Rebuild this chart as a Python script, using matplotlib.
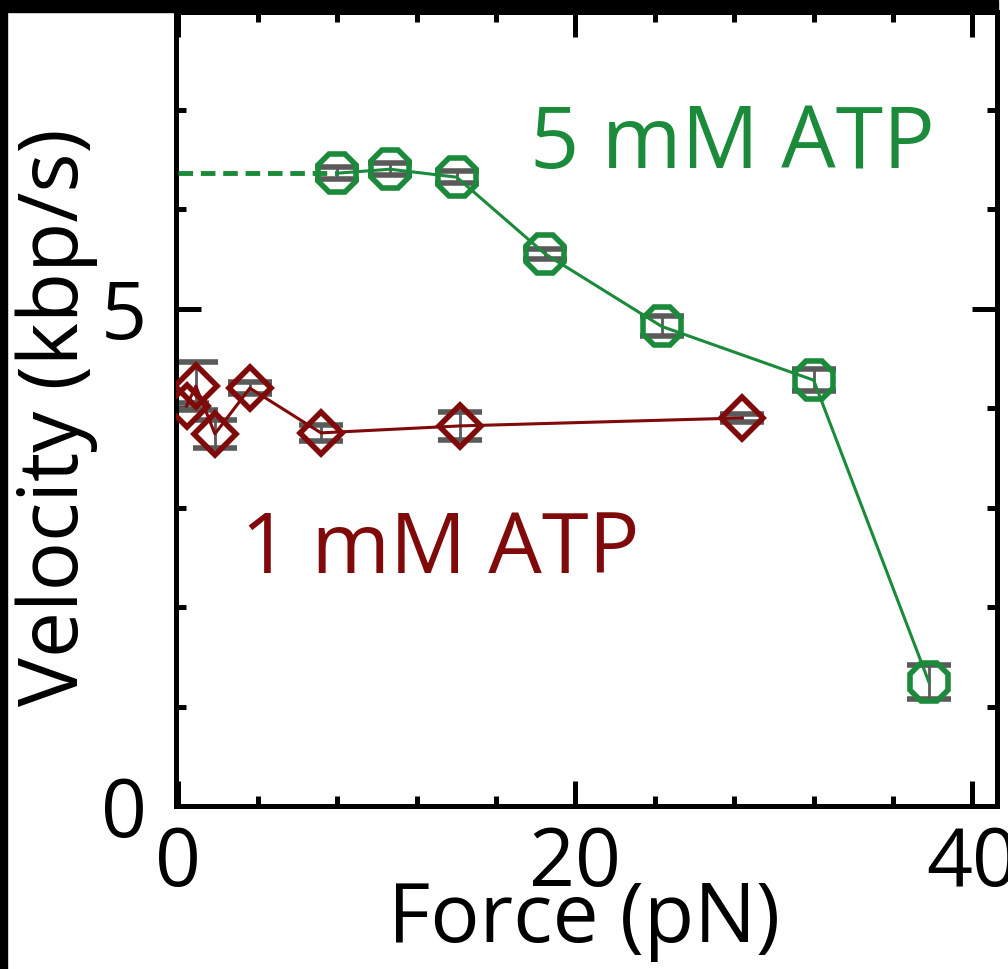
import matplotlib
matplotlib.use("Agg")
from matplotlib import pyplot as plt
from matplotlib.ticker import MultipleLocator, FixedLocator
from matplotlib.patches import Rectangle

# 5 mM ATP
force_5mM = [8.0, 10.66, 14.02, 18.47, 24.35, 32.0, 37.8]
vel_5mM = [6.36, 6.40, 6.32, 5.55, 4.82, 4.28, 1.25]
err_5mM = [0.06, 0.06, 0.06, 0.05, 0.10, 0.11, 0.17]

# 1 mM ATP
force_1mM = [0.41, 0.88, 1.84, 3.6, 7.18, 14.19, 28.4]
vel_1mM = [4.02, 4.22, 3.74, 4.20, 3.75, 3.82, 3.90]
err_1mM = [0.03, 0.24, 0.14, 0.06, 0.08, 0.14, 0.04]

green = '#1b8a3a'
red = '#800a0a'
grey = '#5a5a5a'

plt.rcParams['font.family'] = ['Open Sans', 'DejaVu Sans']

W, H = 1008, 969
fig = plt.figure(figsize=(W / 100, H / 100), dpi=100)
fig.patch.set_facecolor('white')
# black frame pieces at the top and left of the picture
fig.patches.append(Rectangle((0, 1 - 12 / H), 998 / W, 12 / H, transform=fig.transFigure,
                             color='black', zorder=0))
fig.patches.append(Rectangle((0, 0), 7 / W, 1, transform=fig.transFigure,
                             color='black', zorder=0))

ax = fig.add_axes([176 / W, 1 - 806 / H, (997 - 176) / W, (806 - 12) / H])

ax.errorbar(force_1mM, vel_1mM, yerr=err_1mM, fmt='none', ecolor=grey,
            elinewidth=2, capsize=16, capthick=4, zorder=2)
ax.errorbar(force_5mM, vel_5mM, yerr=err_5mM, fmt='none', ecolor=grey,
            elinewidth=2, capsize=16, capthick=4, zorder=2)

ax.plot(force_1mM, vel_1mM, color=red, lw=2.2, marker='D', ms=21,
        mfc='none', mec=red, mew=4, zorder=3)
ax.plot(force_5mM, vel_5mM, color=green, lw=2.2, marker='8', ms=30,
        mfc='none', mec=green, mew=4, zorder=3)
ax.plot([0, force_5mM[0]], [vel_5mM[0], vel_5mM[0]], color=green, lw=3.5,
        dashes=(3, 1.6), zorder=3)

ax.text(27.92, 6.41, '5 mM ATP', color=green, fontsize=62, ha='center', va='baseline')
ax.text(13.18, 2.34, '1 mM ATP', color=red, fontsize=61, ha='center', va='baseline')

ax.set_xlim(-0.12, 41.24)
ax.set_ylim(0, 7.98)
ax.xaxis.set_major_locator(FixedLocator([0, 20, 40]))
ax.xaxis.set_minor_locator(MultipleLocator(4))
ax.yaxis.set_major_locator(FixedLocator([0, 5]))
ax.yaxis.set_minor_locator(MultipleLocator(1))

for s in ax.spines.values():
    s.set_linewidth(3.6)
ax.tick_params(which='both', direction='in', top=True, right=True, width=3.6)
ax.tick_params(which='major', length=18, labelsize=58)
ax.tick_params(axis='x', which='major', pad=13)
ax.tick_params(axis='y', which='major', pad=21)
ax.tick_params(which='minor', length=7)

ax.set_xlabel('Force (pN)', fontsize=59, va='top')
ax.xaxis.set_label_coords(0.497, -0.092)
ax.set_ylabel('Velocity (kbp/s)', fontsize=59)
ax.yaxis.set_label_coords(-0.095, 0.49)

fig.savefig('out.png', dpi=100, facecolor=fig.get_facecolor())
